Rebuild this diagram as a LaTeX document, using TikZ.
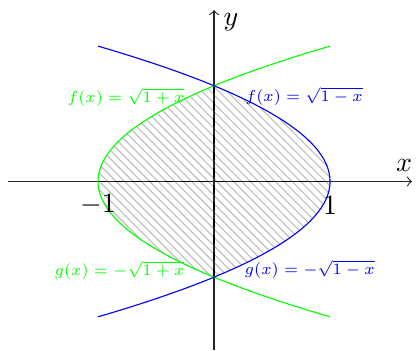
\documentclass[tikz,border=0pt]{standalone}
\usetikzlibrary{patterns}
\begin{document}
\begin{tikzpicture}[x=1.46cm,y=1.2045cm,
  flabel/.style={font=\scriptsize, scale=0.82, inner sep=0pt},
  curve/.style={thin},
  axis/.style={->, black!85}]
\useasboundingbox (-1.845,-1.762) rectangle (1.741,1.896);
% hatched region
\fill[pattern=north west lines, pattern color=gray!50]
  plot[domain=-1:1,samples=60] ({\x*\x-1},\x)
  -- plot[domain=1:-1,samples=60] ({1-\x*\x},\x) -- cycle;
% axes
\coordinate (xs) at (-1.776,0);
\coordinate (xe) at (1.707,0);
\coordinate (ys) at (0,-1.762);
\coordinate (ye) at (0,1.792);
\draw[axis] (xs) -- (xe);
\draw[axis] (ys) -- (ye);
\node (xl) at (1.638,0.172) {$x$};
\node (yl) at (0.147,1.666) {$y$};
% dashed
\coordinate (dl) at (-1,0);
\coordinate (dr) at (1,0);
\coordinate (db) at (0,-1);
\coordinate (dt) at (0,1);
\draw[dashed] (dl) -- (dr);
\draw[dashed] (db) -- (dt);
% curves
\draw[curve, green] plot[domain=-1.4142:1.4142,samples=80] ({\x*\x-1},\x);
\draw[curve, blue] plot[domain=-1.4142:1.4142,samples=80] ({1-\x*\x},\x);
% tick labels
\node (m1) at (-1,-0.246) {$-1$};
\node (p1) at (1,-0.246) {$1$};
% function labels
\node[flabel, text=green, anchor=east] (f1) at (-0.251,0.882) {$f(x) = \sqrt{1+x}$};
\node[flabel, text=blue, anchor=west] (f2) at (0.268,0.892) {$f(x) = \sqrt{1-x}$};
\node[flabel, text=green, anchor=east] (g1) at (-0.251,-0.926) {$g(x) = -\sqrt{1+x}$};
\node[flabel, text=blue, anchor=west] (g2) at (0.26,-0.916) {$g(x) = -\sqrt{1-x}$};
\end{tikzpicture}
\end{document}
